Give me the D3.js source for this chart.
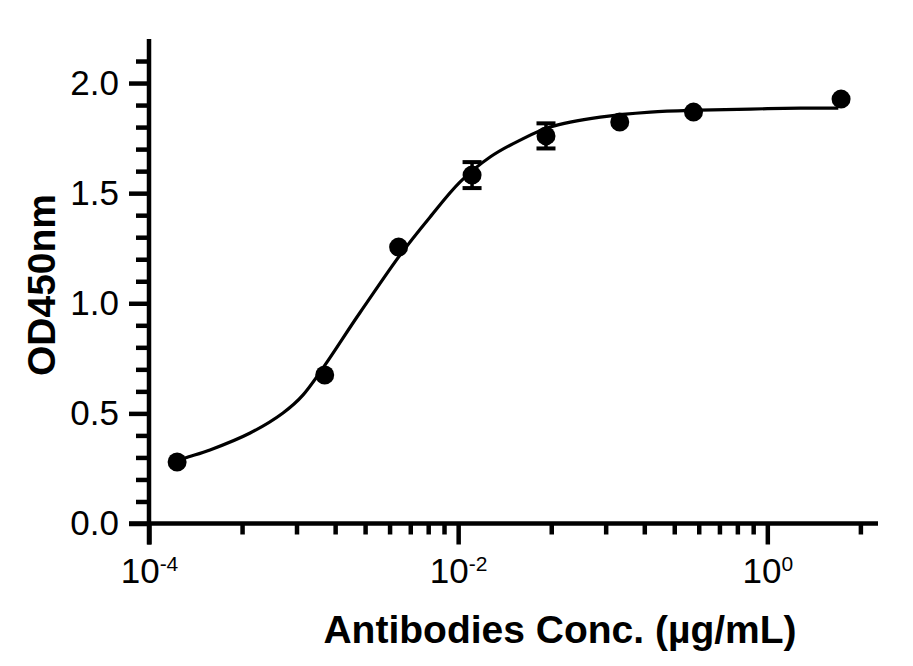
<!DOCTYPE html>
<html>
<head>
<meta charset="utf-8">
<script src="https://cdn.jsdelivr.net/npm/d3@7"></script>
<style>
  html, body { margin: 0; padding: 0; background: #fff; }
  svg { display: block; }
</style>
</head>
<body>
<svg id="chart" width="913" height="666"></svg>
<script>
// ---- data ----
const concentrations = [0.000152, 0.00137, 0.00412, 0.0123, 0.037, 0.111, 0.333, 3.0];
const od450 = [0.279, 0.674, 1.255, 1.582, 1.760, 1.823, 1.868, 1.927];
const od450Err = [0, 0, 0, 0.059, 0.057, 0, 0, 0];

// fitted curve, points
const fitConc = [0.000147, 0.000171, 0.000248, 0.000451, 0.000736, 0.000993,
                 0.00232, 0.00422, 0.00659, 0.0103, 0.0161, 0.0252, 0.0394, 0.083, 0.175,
                 0.368, 0.776, 1.64, 2.88];
const fitOD = [0.279, 0.297, 0.334, 0.411, 0.502, 0.584,
               0.958, 1.220, 1.392, 1.551, 1.664, 1.741, 1.800, 1.845, 1.868,
               1.877, 1.882, 1.886, 1.886];

const xMajorTicks = [1e-4, 1e-2, 1];
const xMajorExponents = ["-4", "-2", "0"];
const xMinorMultipliers = [4, 9, 16, 25, 36, 49, 64, 81];
const yMajorTicks = [0, 0.5, 1.0, 1.5, 2.0];
const yMinorTicks = [0.1, 0.2, 0.3, 0.4, 0.6, 0.7, 0.8, 0.9, 1.1, 1.2, 1.3, 1.4, 1.6, 1.7, 1.8, 1.9, 2.1];
const xTitle = "Antibodies Conc. (µg/mL)";
const yTitle = "OD450nm";

// ---- drawing ----
const svg = d3.select("#chart");
svg.append("rect").attr("width", 913).attr("height", 666).attr("fill", "#fff");

const x = d3.scaleLog().domain([1e-4, 5.2]).range([149, 878]);
const y = d3.scaleLinear().domain([0, 2.2]).range([523.5, 39]);

const font = "'Liberation Sans', Arial, Helvetica, sans-serif";
const axisW = 4.5;

const xMinor = [];
xMajorTicks.forEach(m => xMinorMultipliers.forEach(k => { const v = m * k; if (v <= x.domain()[1]) xMinor.push(v); }));

// y minor ticks
const gyMinor = svg.append("g").attr("transform", `translate(${x.range()[0]},0)`)
  .call(d3.axisLeft(y).tickValues(yMinorTicks).tickSize(13).tickFormat(""));
// y major
const gy = svg.append("g").attr("transform", `translate(${x.range()[0]},0)`)
  .call(d3.axisLeft(y).tickValues(yMajorTicks).tickSize(20).tickSizeOuter(0).tickPadding(10).tickFormat(d3.format(".1f")));

// x minor
const gxMinor = svg.append("g").attr("transform", `translate(0,${y(0)})`)
  .call(d3.axisBottom(x).tickValues(xMinor).tickSize(11).tickFormat(""));
// x major
const gx = svg.append("g").attr("transform", `translate(0,${y(0)})`)
  .call(d3.axisBottom(x).tickValues(xMajorTicks).tickSize(21).tickSizeOuter(0).tickFormat(""));

[gyMinor, gxMinor].forEach(g => g.select(".domain").remove());
[gy, gx, gyMinor, gxMinor].forEach(g => {
  g.selectAll("line").attr("stroke", "#000").attr("stroke-width", axisW);
  g.selectAll(".domain").attr("stroke", "#000").attr("stroke-width", axisW);
});
// extend the axis lines to meet at the corner
gy.select(".domain").attr("d", `M0,${y.range()[1]}V${y(0) + 21}`);
gx.select(".domain").attr("d", `M${x.range()[0] - 20},0H${x.range()[1]}`);

gy.selectAll("text").attr("font-family", font).attr("font-size", 35).attr("fill", "#000");

// x labels 10^n
gx.selectAll(".tick").each(function(d, i) {
  const t = d3.select(this).append("text")
    .attr("y", 59).attr("text-anchor", "middle")
    .attr("font-family", font).attr("font-size", 35).attr("fill", "#000");
  t.append("tspan").text("10");
  t.append("tspan").attr("font-size", 21).attr("dy", -12).text(xMajorExponents[i]);
});

// titles
svg.append("text")
  .attr("x", 560).attr("y", 643).attr("text-anchor", "middle")
  .attr("font-family", font).attr("font-size", 39).attr("font-weight", "bold").attr("fill", "#000")
  .text(xTitle);
svg.append("text")
  .attr("transform", `translate(55,${285}) rotate(-90)`).attr("text-anchor", "middle")
  .attr("font-family", font).attr("font-size", 39).attr("font-weight", "bold").attr("fill", "#000")
  .text(yTitle);

// fit curve
const fitData = fitConc.map((c, i) => [c, fitOD[i]]);
svg.append("path").datum(fitData)
  .attr("fill", "none").attr("stroke", "#000").attr("stroke-width", 3.2)
  .attr("d", d3.line().x(d => x(d[0])).y(d => y(d[1])).curve(d3.curveCatmullRom.alpha(0.5)));

// error bars
const pts = concentrations.map((c, i) => ({ c, v: od450[i], e: od450Err[i] }));
const eb = svg.append("g").selectAll("g").data(pts.filter(d => d.e > 0)).join("g");
eb.append("line").attr("x1", d => x(d.c)).attr("x2", d => x(d.c))
  .attr("y1", d => y(d.v + d.e)).attr("y2", d => y(d.v - d.e))
  .attr("stroke", "#000").attr("stroke-width", 3.5);
eb.append("line").attr("x1", d => x(d.c) - 9.5).attr("x2", d => x(d.c) + 9.5)
  .attr("y1", d => y(d.v + d.e)).attr("y2", d => y(d.v + d.e))
  .attr("stroke", "#000").attr("stroke-width", 4);
eb.append("line").attr("x1", d => x(d.c) - 9.5).attr("x2", d => x(d.c) + 9.5)
  .attr("y1", d => y(d.v - d.e)).attr("y2", d => y(d.v - d.e))
  .attr("stroke", "#000").attr("stroke-width", 4);

// points
svg.append("g").selectAll("circle").data(pts).join("circle")
  .attr("cx", d => x(d.c)).attr("cy", d => y(d.v)).attr("r", 9.5).attr("fill", "#000");
</script>
</body>
</html>
